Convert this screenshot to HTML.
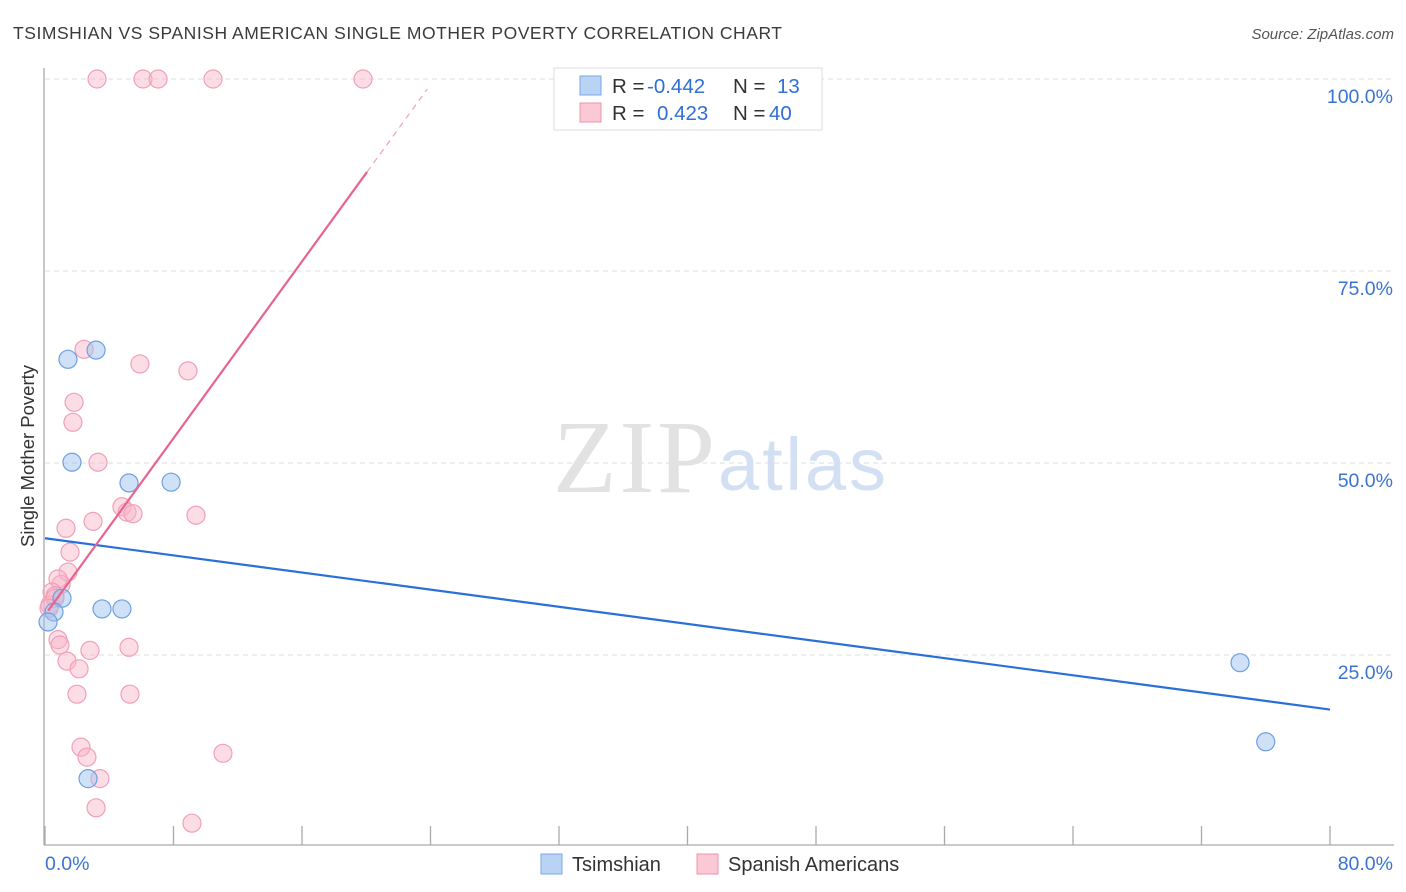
<!DOCTYPE html>
<html><head><meta charset="utf-8"><style>
body{margin:0;background:#fff;font-family:"Liberation Sans",sans-serif}
svg{display:block}
</style></head><body>
<svg id="c" width="1406" height="892" xmlns="http://www.w3.org/2000/svg">
<text x="13" y="39" font-size="17.5" fill="#3a3a3a" textLength="769">TSIMSHIAN VS SPANISH AMERICAN SINGLE MOTHER POVERTY CORRELATION CHART</text>
<text x="1394" y="39" font-size="15" font-style="italic" fill="#555" text-anchor="end">Source: ZipAtlas.com</text>
<text transform="translate(34,456) rotate(-90)" font-size="18.5" fill="#333" text-anchor="middle">Single Mother Poverty</text>
<g id="grid"></g>
<text x="553" y="492" font-size="104" font-family="Liberation Serif,serif" fill="#e2e2e2" textLength="162">ZIP</text>
<text x="718" y="490" font-size="74" fill="#d3e0f3" textLength="168">atlas</text>
<g id="pts"></g>
<g id="lines"></g>
<g>
<rect x="554" y="68" width="268" height="62" fill="#fff" stroke="#ddd"/>
<rect x="580" y="76" width="21" height="19" fill="#b9d3f5" stroke="#7aa7e6"/>
<rect x="580" y="103" width="21" height="19" fill="#fbc9d6" stroke="#ee93ad"/>
<text x="612" y="93" font-size="20.5" fill="#333">R = <tspan x="647" fill="#2f6fd6">-0.442</tspan><tspan x="733">N = </tspan><tspan x="777" fill="#2f6fd6">13</tspan></text>
<text x="612" y="120" font-size="20.5" fill="#333">R = <tspan x="657" fill="#2f6fd6">0.423</tspan><tspan x="733">N = </tspan><tspan x="769" fill="#2f6fd6">40</tspan></text>
</g>
<g>
<rect x="541" y="854" width="21" height="20" fill="#b9d3f5" stroke="#7aa7e6"/>
<text x="572" y="871" font-size="20" fill="#333">Tsimshian</text>
<rect x="697" y="854" width="21" height="20" fill="#fbc9d6" stroke="#ee93ad"/>
<text x="728" y="871" font-size="20" fill="#333">Spanish Americans</text>
</g>
</svg>
<script>
const yTicks=[100,75,50,25];
const yTickLabels=["100.0%","75.0%","50.0%","25.0%"];
const xTicks=[0,8,16,24,32,40,48,56,64,72,80];
const blueX=[1.43,3.18,1.68,5.23,7.85,3.55,4.79,1.06,0.56,0.19,2.68,74.4,76.0];
const blueY=[63.5,64.7,50.1,47.4,47.5,31.0,31.0,32.4,30.6,29.3,8.9,24.0,13.7];
const pinkX=[3.24,6.10,7.04,10.46,19.8,2.43,5.91,8.9,1.81,1.74,3.30,4.79,5.11,5.48,9.4,2.99,1.31,1.56,1.43,1.0,0.81,0.44,0.62,0.31,0.81,0.93,1.37,2.12,2.80,5.23,1.99,5.29,2.24,2.61,3.42,11.08,3.18,9.15,0.62,0.25];
const pinkY=[100,100,100,100,100,64.8,62.9,62.0,57.9,55.3,50.1,44.3,43.6,43.4,43.2,42.4,41.5,38.4,35.8,34.2,34.9,33.2,32.7,31.5,27.0,26.3,24.2,23.2,25.6,26.0,19.9,19.9,13.0,11.7,8.9,12.2,5.1,3.1,32.4,31.1];
const blueTrend=[40.2,17.9];
const pinkTrend=[30.2,87.9,20.05,23.8];
const NS="http://www.w3.org/2000/svg";
const sx=v=>45+v/80*1285, sy=v=>847-v/100*768;
function mk(t,a,p){const e=document.createElementNS(NS,t);for(const k in a)e.setAttribute(k,a[k]);p.appendChild(e);return e;}
const g=document.getElementById('grid');
yTicks.forEach((t,i)=>{
 const l=mk('line',{x1:45,x2:1394,y1:sy(t),y2:sy(t),stroke:'#ddd','stroke-dasharray':'5,4'},g);
 
 
 const tx=mk('text',{x:1393,y:sy(t)+24,'font-size':19.5,fill:'#3b73d3','text-anchor':'end'},g);
 tx.textContent=yTickLabels[i];
 
 
});
mk('line',{x1:44,x2:44,y1:68,y2:845,stroke:'#aaa','stroke-width':1.3},g);
mk('line',{x1:44,x2:1394,y1:845,y2:845,stroke:'#aaa','stroke-width':1.3},g);
xTicks.forEach(t=>{
 const l=mk('line',{x1:sx(t),x2:sx(t),y1:826,y2:845,stroke:'#aaa','stroke-width':1.3},g);
 
 
});
const x0=mk('text',{x:45,y:870,'font-size':19.5,fill:'#3b73d3'},g);x0.textContent='0.0%';


const x1=mk('text',{x:1393,y:870,'font-size':19.5,fill:'#3b73d3','text-anchor':'end'},g);x1.textContent='80.0%';


const p=document.getElementById('pts');
pinkX.forEach((v,i)=>{
 const c=mk('circle',{cx:sx(v),cy:sy(pinkY[i]),r:9,fill:'rgba(248,180,200,0.45)',stroke:'#f0a0b8','stroke-width':1.2},p);
 
 
});
blueX.forEach((v,i)=>{
 const c=mk('circle',{cx:sx(v),cy:sy(blueY[i]),r:9,fill:'rgba(160,195,240,0.5)',stroke:'#6f9fe0','stroke-width':1.2},p);
 
 
});
const L=document.getElementById('lines');
const bl=mk('line',{x1:sx(0),y1:sy(blueTrend[0]),x2:sx(80),y2:sy(blueTrend[1]),stroke:'#2b6fd8','stroke-width':2.2},L);


const slope=(pinkTrend[1]-pinkTrend[0])/pinkTrend[2];
const pl=mk('line',{x1:sx(0.2),y1:sy(pinkTrend[0]+slope*0.2),x2:sx(pinkTrend[2]),y2:sy(pinkTrend[1]),stroke:'#e8648e','stroke-width':2.2},L);


const pd=mk('line',{x1:sx(pinkTrend[2]),y1:sy(pinkTrend[1]),x2:sx(pinkTrend[3]),y2:sy(pinkTrend[0]+slope*pinkTrend[3]),stroke:'#f0a0b8','stroke-width':1.2,'stroke-dasharray':'6,5'},L);


</script>
</body></html>
